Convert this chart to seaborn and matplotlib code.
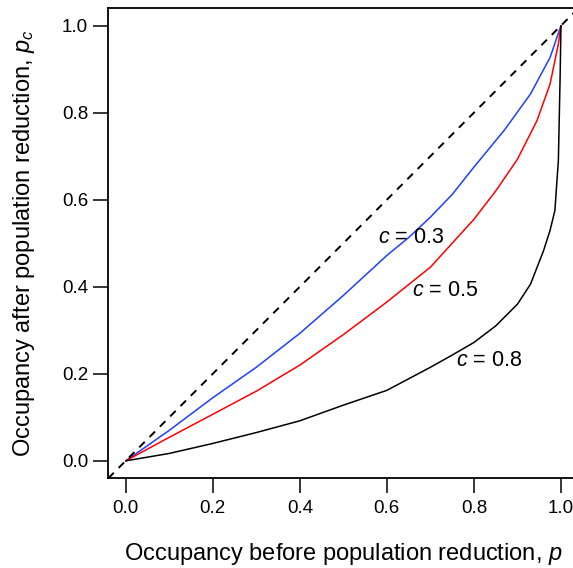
import pandas as pd
import matplotlib
matplotlib.use("Agg")
import matplotlib.pyplot as plt
import seaborn as sns

# curve values
p_c03 = [0, 0.1, 0.2, 0.3, 0.4, 0.5, 0.6, 0.65, 0.7, 0.75, 0.8, 0.87, 0.93, 0.975, 1.0]
pc_c03 = [0, 0.07, 0.145, 0.215, 0.293, 0.38, 0.472, 0.513, 0.56, 0.612, 0.675, 0.76, 0.843, 0.927, 1.0]

p_c05 = [0, 0.1, 0.2, 0.3, 0.4, 0.5, 0.6, 0.7, 0.8, 0.85, 0.9, 0.945, 0.975, 0.994, 1.0]
pc_c05 = [0, 0.054, 0.107, 0.16, 0.22, 0.29, 0.365, 0.445, 0.555, 0.62, 0.693, 0.782, 0.866, 0.958, 1.0]

p_c08 = [0, 0.1, 0.2, 0.3, 0.4, 0.5, 0.6, 0.7, 0.75, 0.8, 0.85, 0.9, 0.93, 0.96,
         0.975, 0.986, 0.994, 0.998, 1.0]
pc_c08 = [0, 0.017, 0.04, 0.065, 0.092, 0.128, 0.162, 0.215, 0.243, 0.272, 0.31, 0.36,
          0.406, 0.483, 0.53, 0.575, 0.69, 0.88, 1.0]

c_labels = ["c = 0.3", "c = 0.5", "c = 0.8"]
c_colors = ["#1f3fff", "#ff0000", "#000000"]
label_pos = [(0.656, 0.513), (0.734, 0.391), (0.835, 0.23)]
ticks = [0.0, 0.2, 0.4, 0.6, 0.8, 1.0]

frames = []
for lab, px, py in zip(c_labels, [p_c03, p_c05, p_c08], [pc_c03, pc_c05, pc_c08]):
    frames.append(pd.DataFrame({"p": px, "pc": py, "c": lab}))
df = pd.concat(frames, ignore_index=True)

sns.set_style("white")
plt.rcParams["font.family"] = ["Liberation Sans", "DejaVu Sans"]
plt.rcParams["mathtext.fontset"] = "custom"
plt.rcParams["mathtext.it"] = "Liberation Sans:italic"
plt.rcParams["mathtext.rm"] = "Liberation Sans"
plt.rcParams["text.color"] = "black"
plt.rcParams["axes.labelcolor"] = "black"

fig = plt.figure(figsize=(5.73, 5.68), dpi=100)
ax = fig.add_axes([0.189, 0.158, 0.8204, 0.8275])

sns.lineplot(data=df, x="p", y="pc", hue="c", palette=dict(zip(c_labels, c_colors)),
             sort=False, estimator=None, linewidth=1.1, legend=False, ax=ax)
ax.axline((0, 0), (1, 1), color="black", linestyle=(0, (4, 3.5)), linewidth=1.4)

for lab, (x, y) in zip(c_labels, label_pos):
    ax.text(x, y, "$c$ = " + lab.split("= ")[1], fontsize=15.5, ha="center", va="center")

ax.set_xlim(-0.04, 1.04)
ax.set_ylim(-0.04, 1.04)
ax.set_xticks(ticks)
ax.set_yticks(ticks)
ax.set_xticklabels([f"{t:.1f}" for t in ticks])
ax.set_yticklabels([f"{t:.1f}" for t in ticks])
ax.tick_params(axis="both", direction="out", length=11, width=1.1, labelsize=13.5,
               color="black", labelcolor="black", bottom=True, left=True)
ax.tick_params(axis="x", pad=5)
ax.tick_params(axis="y", pad=3.5)
for s in ax.spines.values():
    s.set_color("black")
    s.set_linewidth(1.3)

ax.set_xlabel("Occupancy before population reduction, $p$", fontsize=17, labelpad=17)
ax.set_ylabel("Occupancy after population reduction, $p_c$", fontsize=17, labelpad=18)

fig.savefig("out.png", dpi=100)
